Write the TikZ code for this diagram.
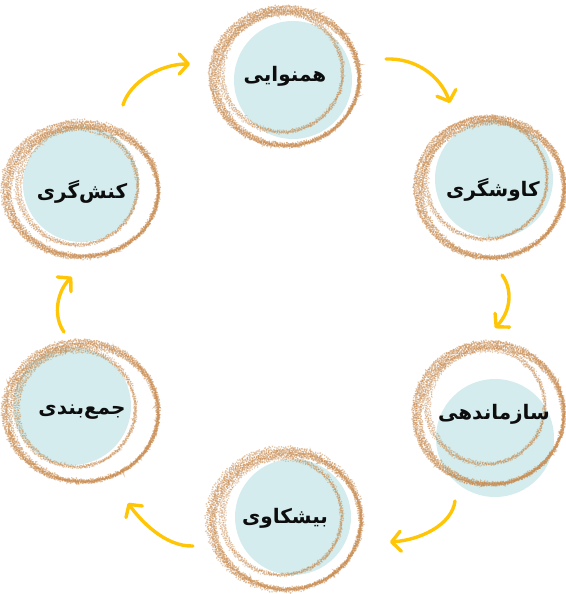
\documentclass[tikz,border=0pt]{standalone}
\usepackage{fontspec}
\newfontfamily\fa[Script=Arabic]{DejaVu Sans}
\TeXXeTstate=1
\usetikzlibrary{arrows.meta,decorations.pathmorphing}
\definecolor{ringc}{RGB}{200,140,82}
\definecolor{bluef}{RGB}{212,236,237}
\definecolor{arrowy}{RGB}{255,198,8}
\tikzset{
  bluecirc/.style={circle, fill=bluef, minimum size=#1, inner sep=0pt},
  lab/.style={font=\fa\bfseries\fontsize{20}{23}\selectfont, text=black!95, inner sep=0pt},
  band/.style={draw=ringc, line width=1.5pt, opacity=.5, dash pattern=on 1.1pt off 1.4pt,
    decorate, decoration={random steps, segment length=1.7pt, amplitude=1.5pt}},
  bandlight/.style={band, line width=1.2pt, opacity=.42, dash pattern=on 1pt off 1.6pt},
  cyc/.style={draw=arrowy, line width=3.4pt, line cap=round,
    -{Straight Barb[length=9pt,width=20pt,round]}},
}
% one hand-drawn loop: thick at upper left, thin at lower right
% #1 style, #2 steps, #3 cx, #4 cy, #5 rx, #6 ry
\newcommand\scribloop[6]{%
  \foreach \k in {0,...,#2}{%
    \pgfmathsetmacro\ss{\k*0.7}%
    \pgfmathsetmacro\ex{0.8*\ss+0.8*rand}%
    \draw[#1] (#3-0.5*\ss,#4-0.4*\ss) ellipse[x radius=#5+\ex, y radius=#6+\ex];
  }%
}
% ring = outer loop + inner loop
\newcommand\scribring[8]{%
  \scribloop{band}{10}{#1}{#2}{#3}{#4}%
  \scribloop{bandlight}{6}{#5}{#6}{#7}{#8}%
}
\begin{document}
\begin{tikzpicture}[x=1pt,y=-1pt]
\pgfmathsetseed{7}
\useasboundingbox (0,0) rectangle (565,594);
% blue discs
\node[bluecirc=118pt] (b1) at (293,80) {};
\node[bluecirc=118pt] (b2) at (494,179) {};
\node[bluecirc=118pt] (b3) at (495,438) {};
\node[bluecirc=116pt] (b4) at (293,517) {};
\node[bluecirc=118pt] (b5) at (72,406) {};
\node[bluecirc=116pt] (b6) at (81,184) {};
% scribbled rings
\scribring{288}{79}{70}{65}{283}{73}{59}{58}
\scribring{493}{190}{70}{66}{487}{180}{59}{58}
\scribring{492}{416}{71}{67}{487}{407}{57}{56}
\scribring{288}{522}{72}{66}{283}{517}{58}{57}
\scribring{84}{414}{73}{66}{77}{409}{58}{57}
\scribring{84}{192}{73}{63}{79}{187}{58}{57}
% labels
\node[lab] (t1) at (285,76) {\beginR همنوایی\endR};
\node[lab] (t2) at (493,190) {\beginR کاوشگری\endR};
\node[lab] (t3) at (494,414) {\beginR سازماندهی\endR};
\node[lab] (t4) at (285,518) {\beginR بیشکاوی\endR};
\node[lab] (t5) at (82,412) {\beginR جمع^^^^200cبندی\endR};
\node[lab] (t6) at (82,192) {\beginR کنش^^^^200cگری\endR};
% arrow ends
\coordinate (a1s) at (123,105); \coordinate (a1e) at (190,64);
\coordinate (a2s) at (386,59);  \coordinate (a2e) at (450,103);
\coordinate (a3s) at (502,275); \coordinate (a3e) at (495,328);
\coordinate (a4s) at (455,501); \coordinate (a4e) at (390,542);
\coordinate (a5s) at (193,546); \coordinate (a5e) at (128,503);
\coordinate (a6s) at (64,332);  \coordinate (a6e) at (72,277);
\draw[cyc] (a1s) .. controls (130,82) and (160,64) .. (a1e);
\draw[cyc] (a2s) .. controls (415,58) and (440,75) .. (a2e);
\draw[cyc] (a3s) .. controls (512,288) and (512,310) .. (a3e);
\draw[cyc] (a4s) .. controls (452,525) and (420,540) .. (a4e);
\draw[cyc] (a5s) .. controls (165,547) and (140,520) .. (a5e);
\draw[cyc] (a6s) .. controls (52,315) and (58,290) .. (a6e);
\end{tikzpicture}
\end{document}
